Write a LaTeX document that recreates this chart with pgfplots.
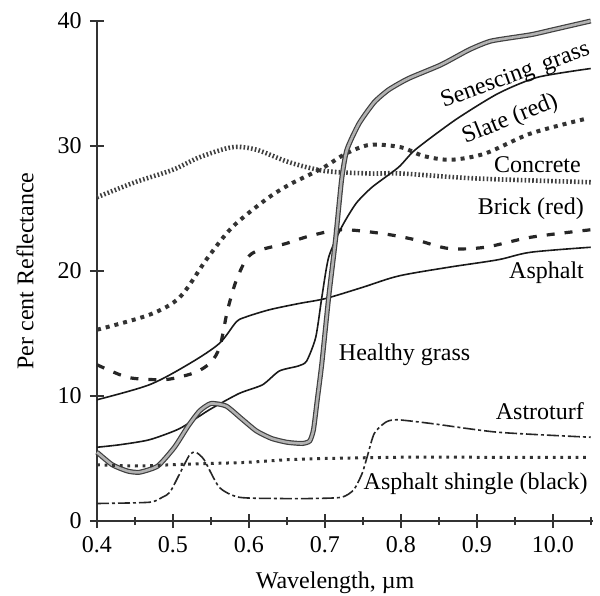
\documentclass[border=0pt,12pt]{standalone}
\usepackage{fontspec}
\setmainfont{Liberation Serif}
\usepackage{pgfplots}
\pgfplotsset{compat=1.18}

\tikzset{
  grassline/.style={draw=black!75, double=black!30, double distance=1.3pt, line width=0.6pt},
  thinline/.style={black!90, line width=0.8pt},
  concreteline/.style={black!75, line width=2.3pt, dash pattern=on 0.8pt off 1.1pt},
  slateline/.style={black!80, line width=2pt, dash pattern=on 2pt off 2.5pt},
  shingleline/.style={black!80, line width=1.5pt, dash pattern=on 1.4pt off 2.4pt},
  brickline/.style={black!85, line width=1.6pt, dash pattern=on 4pt off 5pt},
  turfline/.style={black!85, line width=0.8pt, dash pattern=on 6pt off 1.5pt on 1.5pt off 1.5pt},
}

\begin{document}
\begin{tikzpicture}
\begin{axis}[
    name=ax,
    scale only axis,
    width=248pt, height=250pt,
    xmin=0.4, xmax=1.053,
    ymin=0, ymax=40,
    axis lines=left,
    axis line style={-, line width=0.9pt, black!80},
    xtick={0.4,0.5,0.6,0.7,0.8,0.9,1.0},
    xticklabels={0.4,0.5,0.6,0.7,0.8,0.9,10.0},
    minor xtick={0.45,0.55,0.65,0.75,0.85,0.95,1.05},
    ytick={0,10,20,30,40},
    tick align=center,
    major tick length=7pt, minor tick length=4pt,
    every tick/.style={black!80, line width=0.8pt},
    /pgf/number format/assume math mode=true,
    xlabel={Wavelength, µm},
    ylabel={Per cent Reflectance},
    xlabel style={at={(axis description cs:0.48,-0.124)}, anchor=center},
    ylabel style={at={(axis description cs:-0.145,0.5)}, anchor=center},
    clip=false,
    every node/.append style={text=black!85},
]
% Concrete
\addplot[concreteline, smooth, tension=0.5] coordinates {
 (0.400,25.9) (0.450,27.1) (0.500,28.1) (0.535,29.1) (0.578,29.9) (0.610,29.7)
 (0.653,28.7) (0.700,28.0) (0.760,27.8) (0.800,27.8) (0.900,27.4) (1.050,27.1)
};
% Slate (red)
\addplot[slateline, smooth, tension=0.5] coordinates {
 (0.400,15.3) (0.469,16.5) (0.509,17.9) (0.545,21.0) (0.578,23.5) (0.622,25.7)
 (0.653,26.9) (0.696,28.2) (0.728,29.4) (0.760,30.1) (0.800,29.9) (0.830,29.2)
 (0.866,28.9) (0.911,29.4) (0.971,31.0) (1.045,32.2)
};
% Brick (red)
\addplot[brickline, smooth, tension=0.5] coordinates {
 (0.400,12.5) (0.440,11.5) (0.480,11.3) (0.500,11.4) (0.530,11.9) (0.550,12.7)
 (0.562,14.0) (0.572,16.9) (0.585,19.5) (0.604,21.4) (0.649,22.2) (0.680,22.8)
 (0.722,23.3) (0.775,23.0) (0.819,22.5) (0.863,21.8) (0.911,21.9) (0.971,22.7)
 (1.050,23.3)
};
% Asphalt
\addplot[thinline, smooth, tension=0.5] coordinates {
 (0.400,9.7) (0.469,10.9) (0.522,12.6) (0.561,14.2) (0.583,15.9) (0.595,16.3)
 (0.627,16.9) (0.666,17.4) (0.701,17.8) (0.750,18.7) (0.797,19.6) (0.863,20.3)
 (0.928,20.9) (0.971,21.5) (1.050,21.9)
};
% thin solid line reaching 36 per cent
\addplot[thinline, smooth, tension=0.4] coordinates {
 (0.400,5.9) (0.430,6.1) (0.469,6.5) (0.509,7.4) (0.548,8.9) (0.587,10.2)
 (0.618,10.9) (0.640,12.0) (0.665,12.4) (0.676,12.8) (0.688,14.7) (0.696,17.9)
 (0.705,21.1) (0.722,23.5) (0.741,25.4) (0.762,26.7) (0.797,28.3) (0.819,29.7)
 (0.872,32.1) (0.928,34.2) (0.980,35.5) (1.050,36.2)
};
% Healthy grass
\addplot[grassline, smooth, tension=0.35] coordinates {
 (0.400,5.5) (0.420,4.5) (0.440,4.0) (0.456,3.9) (0.480,4.4) (0.502,5.9)
 (0.520,7.6) (0.535,8.8) (0.550,9.4) (0.570,9.2) (0.590,8.2) (0.610,7.2)
 (0.630,6.6) (0.650,6.3) (0.670,6.2) (0.680,6.4) (0.685,7.3) (0.690,9.7)
 (0.696,12.6) (0.705,17.9) (0.714,22.5) (0.722,27.3) (0.729,29.7) (0.745,31.8)
 (0.765,33.5) (0.784,34.5) (0.810,35.4) (0.853,36.5) (0.890,37.7) (0.919,38.4)
 (0.971,38.9) (1.000,39.3) (1.050,40.0)
};
% Astroturf
\addplot[turfline, smooth, tension=0.4] coordinates {
 (0.400,1.4) (0.469,1.5) (0.486,1.9) (0.496,2.3) (0.509,3.8) (0.522,5.3)
 (0.530,5.5) (0.541,4.9) (0.561,2.7) (0.587,1.9) (0.640,1.8) (0.683,1.8)
 (0.722,1.9) (0.738,2.5) (0.749,3.8) (0.756,5.2) (0.765,7.0) (0.780,7.9)
 (0.795,8.1) (0.840,7.8) (0.928,7.1) (1.050,6.7)
};
% Asphalt shingle (black)
\addplot[shingleline, smooth, tension=0.5] coordinates {
 (0.400,4.5) (0.450,4.4) (0.500,4.5) (0.550,4.6) (0.600,4.7) (0.650,4.9)
 (0.700,5.0) (0.800,5.1) (0.900,5.1) (1.050,5.1)
};

\node[rotate=20] at (axis cs:0.951,35.6) {Senescing\, grass};
\node[rotate=22] at (axis cs:0.944,32.1) {Slate (red)};
\node[anchor=east] at (axis cs:1.048,28.5) {Concrete};
\node[anchor=east] at (axis cs:1.052,25.0) {Brick (red)};
\node[anchor=east] at (axis cs:1.052,19.9) {Asphalt};
\node at (axis cs:0.805,13.3) {Healthy grass};
\node[anchor=east] at (axis cs:1.052,8.8) {Astroturf};
\node[anchor=east] at (axis cs:1.057,3.0) {Asphalt shingle (black)};
\end{axis}
\pgfresetboundingbox
\path[use as bounding box] ([shift={(-48.5pt,-37pt)}]ax.south west) rectangle ([shift={(251.5pt,260.5pt)}]ax.south west);
\end{tikzpicture}
\end{document}
